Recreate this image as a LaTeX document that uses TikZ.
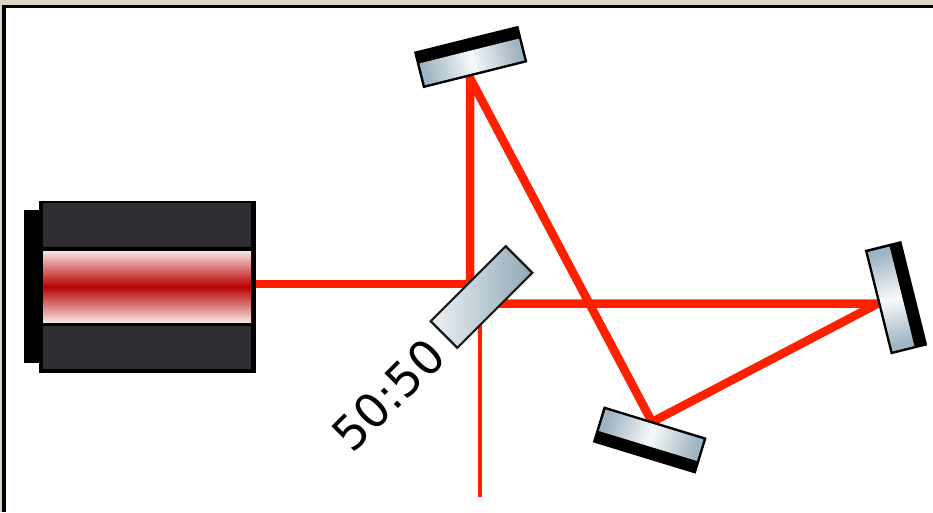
\documentclass[tikz,border=0pt]{standalone}
\usepackage{fontspec}
\setmainfont{DejaVu Sans}
\definecolor{beam}{HTML}{FF2000}
\definecolor{panel}{HTML}{302C33}
\definecolor{silver}{HTML}{9FB4C2}
\definecolor{splitdark}{HTML}{8FA8B6}
\definecolor{splitpale}{HTML}{EDF1F4}
\definecolor{frameb}{HTML}{DDD5C6}
\definecolor{tubered}{HTML}{B80000}
\definecolor{tubepale}{HTML}{F7E4E4}
\tikzset{
  box/.style={rectangle,inner sep=0pt,outer sep=0pt,minimum width=#1},
  blackmirror/.style={box=107.5pt,minimum height=37.5pt,fill=black},
  silverface/.style={box=102.5pt,minimum height=22.5pt,left color=silver,right color=silver,middle color=white!92!silver},
  lightbeam/.style={draw=beam,line width=8.5pt,line join=miter},
  thinbeam/.style={draw=beam,line width=4.5pt},
  panelbox/.style={box=208pt,fill=panel},
}
\begin{document}
\begin{tikzpicture}[x=1pt,y=-1pt]
\useasboundingbox (0,0) rectangle (933,512);
% window frame
\fill[frameb] (0,0) rectangle (933,5);
\fill[frameb] (0,0) rectangle (2,512);
\fill[black] (2,5) rectangle (933,8);
\fill[black] (2,5) rectangle (6,512);
% named points on the optics
\coordinate (hitA) at (470,284);
\coordinate (hitB) at (470,78);
\coordinate (hitC) at (652,422);
\coordinate (hitD) at (878,303.5);
\coordinate (hitE) at (490,303.5);
\coordinate (thinA) at (480,310);
\coordinate (thinB) at (480,497);
% laser
\node[box=15pt,minimum height=153pt,fill=black] (plate) at (31.5,286.5) {};
\node[box=217pt,minimum height=172pt,fill=black] (laser) at (147.5,287) {};
\node[panelbox,minimum height=44pt] (upper) at (147,225) {};
\node[panelbox,minimum height=43pt] (lower) at (147,347.5) {};
\node[box=208pt,minimum height=71pt,top color=tubepale,bottom color=tubepale,middle color=tubered] (tube) at (147,286.5) {};
% beams
\draw[lightbeam] (laser.east |- hitA) -- (hitA);
\draw[lightbeam] (hitA) -- (hitB) -- (hitC) -- (hitD) -- (hitE);
\draw[thinbeam] (thinA) -- (thinB);
% splitter
\node[box=106pt,minimum height=37.7pt,draw=black!90,line width=2.2pt,
      left color=splitpale,right color=splitdark,shading angle=90] (split) at (481.5,297) [rotate=45] {};
\node[rotate=45,font=\fontsize{47}{47}\selectfont,inner sep=0pt] (ratio) at (388.3,395) {50:50};
% mirrors
\node[blackmirror,rotate=14] (mirrorA) at (470.7,57) {};
\node[silverface,rotate=14,shading angle=104] (faceA) at (471.9,61.9) {};
\node[blackmirror,rotate=-76] (mirrorB) at (896,297.7) {};
\node[silverface,rotate=-76,shading angle=14] (faceB) at (891.1,299) {};
\node[blackmirror,rotate=-17] (mirrorC) at (649.7,440) {};
\node[silverface,rotate=-17,shading angle=73] (faceC) at (651.2,435.2) {};
\end{tikzpicture}
\end{document}
